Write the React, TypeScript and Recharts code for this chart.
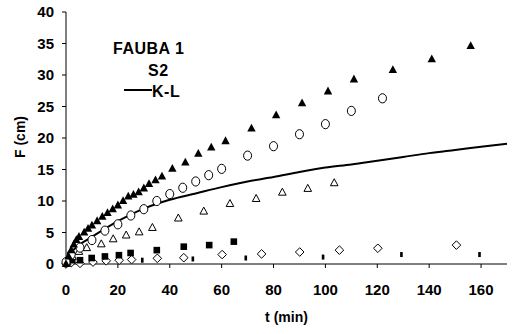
import React from 'react'
import { ComposedChart, Scatter, Line, XAxis, YAxis, Legend } from 'recharts'

// filled triangles
const triT = [0, 1, 2, 3, 4, 5, 7, 8.5, 10, 12, 14, 16, 18, 20, 22, 24, 26, 28, 30, 32, 34.5, 37, 41, 46, 51, 56, 61.5, 71.5, 81, 91, 101, 111, 126, 141, 156]
const triF = [0, 1.2, 2.2, 3.1, 3.8, 4.3, 5.0, 5.6, 6.1, 6.8, 7.5, 8.1, 8.7, 9.3, 10.0, 10.7, 11.0, 11.4, 12.0, 12.7, 13.3, 13.9, 15.1, 16.1, 17.5, 18.5, 19.5, 21.5, 23.6, 25.5, 27.4, 29.3, 30.8, 32.5, 34.6]

// open circles
const circT = [0, 2, 5.4, 10, 15, 20, 25, 30, 35, 40, 45, 50, 55, 60, 70, 80, 90, 100, 110, 122]
const circF = [0.3, 1.5, 2.6, 3.8, 5.3, 6.3, 7.7, 8.7, 10.0, 11.1, 12.1, 13.1, 14.1, 15.1, 17.2, 18.7, 20.6, 22.2, 24.3, 26.3]

// open triangles
const otriT = [0.5, 2.5, 5, 8, 13.6, 18.2, 23.2, 28.2, 33.3, 43.3, 53.1, 63.2, 73.3, 83.4, 93.2, 103.4]
const otriF = [0.3, 1.2, 2.0, 2.6, 3.2, 4.0, 4.6, 5.1, 5.8, 7.3, 8.4, 9.6, 10.4, 11.4, 12.0, 12.9]

// filled squares
const sqT = [2.4, 5.4, 9.9, 15, 20.4, 24.9, 35, 45.4, 55.2, 64.7]
const sqF = [0.6, 0.6, 0.95, 1.2, 1.4, 1.75, 2.2, 2.75, 3.0, 3.55]

// small filled marks
const smT = [29.4, 48.9, 69.3, 99.1, 129.3, 159.4]
const smF = [0.6, 0.8, 0.95, 1.1, 1.5, 1.5]

// open diamonds
const diaT = [0, 2, 5.4, 10.4, 15.5, 20.5, 25.3, 35.2, 45.4, 60.2, 75.4, 90.1, 105.4, 120.2, 150.5]
const diaF = [0, 0.2, 0.1, 0.3, 0.5, 0.6, 0.7, 0.9, 1.0, 1.5, 1.6, 1.9, 2.2, 2.5, 3.0]

// K-L model curve
const klT = [0, 1, 2, 5, 10, 20, 30, 40, 50, 60, 70, 80, 90, 100, 110, 120, 130, 140, 150, 160, 170]
const klF = [0, 1.2, 1.8, 3.0, 4.3, 6.8, 8.8, 10.2, 11.2, 12.2, 13.1, 13.8, 14.6, 15.3, 15.8, 16.4, 17.0, 17.6, 18.1, 18.6, 19.1]

const xTicks = [0, 20, 40, 60, 80, 100, 120, 140, 160]
const yTicks = [0, 5, 10, 15, 20, 25, 30, 35, 40]

const zip = (ts: number[], fs: number[]) => ts.map((t, i) => ({ t, F: fs[i] }))

const font = '"Liberation Sans", Arial, sans-serif'
const tickStyle = { fontFamily: font, fontWeight: 'bold', fontSize: 15, fill: '#000' }

const FilledTri = (p: any) => (
  <path d={`M${p.cx},${p.cy - 4.8}L${p.cx + 4.2},${p.cy + 3}L${p.cx - 4.2},${p.cy + 3}Z`} fill='#000' />
)
const OpenTri = (p: any) => (
  <path d={`M${p.cx},${p.cy - 4}L${p.cx + 3.8},${p.cy + 3}L${p.cx - 3.8},${p.cy + 3}Z`} fill='#fff' stroke='#000' strokeWidth={1} />
)
const OpenCirc = (p: any) => (
  <ellipse cx={p.cx} cy={p.cy} rx={4} ry={4.6} fill='#fff' stroke='#000' strokeWidth={1} />
)
const Square = (p: any) => <rect x={p.cx - 3.3} y={p.cy - 3.3} width={6.6} height={6.6} fill='#000' />
const Small = (p: any) => <rect x={p.cx - 1.3} y={p.cy - 2.5} width={2.6} height={5} fill='#000' />
const Diamond = (p: any) => (
  <path d={`M${p.cx},${p.cy - 4.3}L${p.cx + 4.3},${p.cy}L${p.cx},${p.cy + 4.3}L${p.cx - 4.3},${p.cy}Z`} fill='#fff' stroke='#000' strokeWidth={1} />
)

const Annot = () => (
  <div style={{ position: 'relative', fontFamily: font, fontWeight: 'bold', fontSize: 16, lineHeight: '16px', letterSpacing: 0.5, color: '#000' }}>
    <div style={{ position: 'absolute', left: 113, top: 41, whiteSpace: 'nowrap' }}>FAUBA 1</div>
    <div style={{ position: 'absolute', left: 148, top: 63 }}>S2</div>
    <div style={{ position: 'absolute', left: 124, top: 89, width: 28, height: 2, background: '#000' }} />
    <div style={{ position: 'absolute', left: 152, top: 84 }}>K-L</div>
  </div>
)

export default function App() {
  return (
    <div style={{ position: 'absolute', left: 0, top: 0, background: '#fff' }}>
      <ComposedChart width={514} height={334} margin={{ top: 12, right: 7, left: 0, bottom: 0 }}>
        <XAxis
          type='number'
          dataKey='t'
          domain={[0, 170]}
          ticks={xTicks}
          height={70}
          tickSize={4}
          tickMargin={16}
          axisLine={{ stroke: '#000' }}
          tickLine={{ stroke: '#000' }}
          tick={tickStyle}
          label={{ value: 't (min)', position: 'insideBottom', offset: 12, style: { ...tickStyle, fontSize: 14 } }}
        />
        <YAxis
          type='number'
          dataKey='F'
          domain={[0, 40]}
          ticks={yTicks}
          width={66}
          tickSize={4}
          tickMargin={8}
          axisLine={{ stroke: '#000' }}
          tickLine={{ stroke: '#000' }}
          tick={tickStyle}
          label={{
            content: () => (
              <text x={20} y={137} transform='rotate(-90 20 137)' textAnchor='middle' dominantBaseline='central' style={{ ...tickStyle, fontSize: 14 }}>
                F (cm)
              </text>
            ),
          }}
        />
        <Legend content={() => <Annot />} wrapperStyle={{ left: 0, top: 0, width: 514, height: 0 }} />
        <Line data={zip(klT, klF)} dataKey='F' type='monotone' stroke='#000' strokeWidth={2} dot={false} isAnimationActive={false} legendType='none' />
        <Scatter data={zip(diaT, diaF)} dataKey='F' shape={Diamond} isAnimationActive={false} />
        <Scatter data={zip(smT, smF)} dataKey='F' shape={Small} isAnimationActive={false} />
        <Scatter data={zip(sqT, sqF)} dataKey='F' shape={Square} isAnimationActive={false} />
        <Scatter data={zip(otriT, otriF)} dataKey='F' shape={OpenTri} isAnimationActive={false} />
        <Scatter data={zip(circT, circF)} dataKey='F' shape={OpenCirc} isAnimationActive={false} />
        <Scatter data={zip(triT, triF)} dataKey='F' shape={FilledTri} isAnimationActive={false} />
      </ComposedChart>
    </div>
  )
}
